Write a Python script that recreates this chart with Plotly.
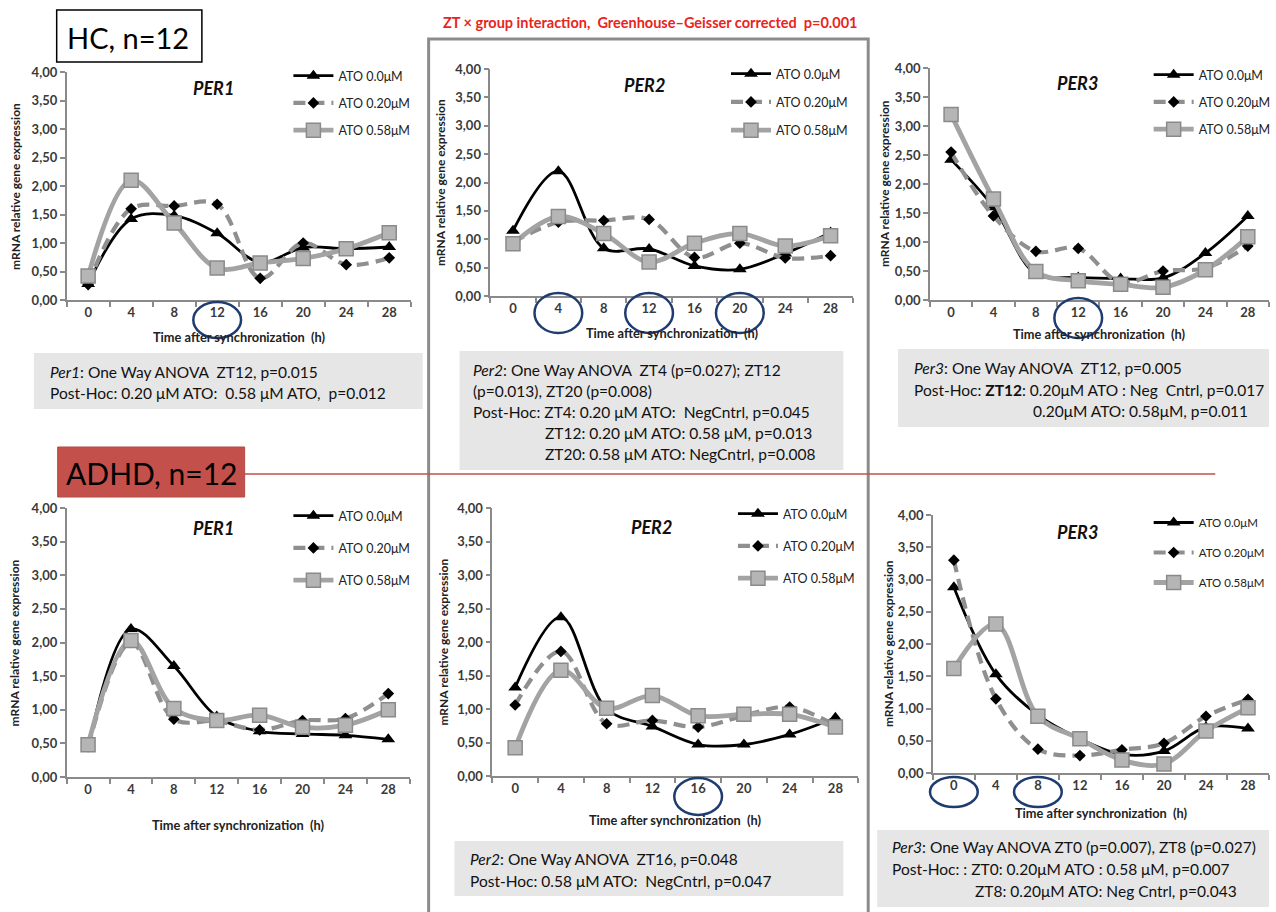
import plotly.graph_objects as go

W, H = 1276, 912
def px(x): return x / W
def py(y): return 1 - y / H

# ---------------- data ----------------
hours = [0, 4, 8, 12, 16, 20, 24, 28]
hour_labels = ["0", "4", "8", "12", "16", "20", "24", "28"]
series_names = ["ATO 0.0μM", "ATO 0.20μM", "ATO 0.58μM"]

hc_per1_ato000 = [0.28, 1.42, 1.48, 1.17, 0.66, 0.92, 0.90, 0.93]
hc_per1_ato020 = [0.27, 1.60, 1.65, 1.68, 0.38, 1.00, 0.62, 0.74]
hc_per1_ato058 = [0.42, 2.10, 1.35, 0.56, 0.65, 0.73, 0.90, 1.18]

hc_per2_ato000 = [1.15, 2.20, 0.84, 0.83, 0.53, 0.47, 0.75, 1.12]
hc_per2_ato020 = [0.95, 1.30, 1.33, 1.35, 0.68, 0.93, 0.67, 0.71]
hc_per2_ato058 = [0.92, 1.40, 1.10, 0.60, 0.93, 1.10, 0.88, 1.06]

hc_per3_ato000 = [2.42, 1.60, 0.45, 0.39, 0.37, 0.38, 0.81, 1.45]
hc_per3_ato020 = [2.55, 1.45, 0.84, 0.89, 0.30, 0.50, 0.55, 0.93]
hc_per3_ato058 = [3.20, 1.74, 0.49, 0.33, 0.27, 0.22, 0.52, 1.09]

adhd_per1_ato000 = [0.43, 2.20, 1.65, 0.90, 0.68, 0.64, 0.62, 0.56]
adhd_per1_ato020 = [0.45, 2.00, 0.86, 0.83, 0.70, 0.84, 0.87, 1.24]
adhd_per1_ato058 = [0.48, 2.03, 1.02, 0.84, 0.92, 0.74, 0.77, 1.00]

adhd_per2_ato000 = [1.32, 2.37, 1.00, 0.74, 0.47, 0.47, 0.62, 0.87]
adhd_per2_ato020 = [1.06, 1.86, 0.78, 0.83, 0.73, 0.90, 1.03, 0.75]
adhd_per2_ato058 = [0.42, 1.58, 1.01, 1.20, 0.90, 0.92, 0.92, 0.73]

adhd_per3_ato000 = [2.88, 1.53, 0.90, 0.53, 0.29, 0.34, 0.71, 0.69]
adhd_per3_ato020 = [3.30, 1.15, 0.37, 0.27, 0.36, 0.46, 0.88, 1.14]
adhd_per3_ato058 = [1.62, 2.31, 0.88, 0.53, 0.20, 0.14, 0.65, 1.01]

panel_titles = ["PER1", "PER2", "PER3", "PER1", "PER2", "PER3"]
panel_series = [
    [hc_per1_ato000, hc_per1_ato020, hc_per1_ato058],
    [hc_per2_ato000, hc_per2_ato020, hc_per2_ato058],
    [hc_per3_ato000, hc_per3_ato020, hc_per3_ato058],
    [adhd_per1_ato000, adhd_per1_ato020, adhd_per1_ato058],
    [adhd_per2_ato000, adhd_per2_ato020, adhd_per2_ato058],
    [adhd_per3_ato000, adhd_per3_ato020, adhd_per3_ato058],
]
highlighted_hours = [[12], [4, 12, 20], [12], [], [16], [0, 8]]

# ---------------- layout config (pixels) ----------------
FONT = "Lato"
X_RANGE = [-2, 30]
panel_box = [
    (67, 413, 72, 300),
    (493, 858, 69, 296),
    (935, 1276, 68, 300),
    (67, 412, 508, 777),
    (495, 863, 508, 776),
    (938, 1276, 515, 773),
]
title_pos = [(215, 88), (648, 85), (1083, 83), (215, 528), (655, 527), (1083, 532)]
ytitle_x = [15, 443, 890, 15, 445, 893]
xtitle_y = [337, 333, 334, 825, 820, 813]
legend_pos = [(340, 75, 27), (780, 73, 28), (1205, 74, 27),
              (340, 515, 32), (787, 513, 32), (1205, 522, 30)]
ellipse_y = [(302, 338), (293, 333), (298, 338), None, (778, 815), (777, 807)]

line_styles = [
    dict(color="#000000", width=2.8),
    dict(color="#8f8f8f", width=4.2, dash="12px,7px"),
    dict(color="#a3a3a3", width=4.8),
]
marker_styles = [
    dict(symbol="triangle-up", size=12, color="#000000"),
    dict(symbol="diamond", size=9, color="#000000"),
    dict(symbol="square", size=14, color="#b5b5b5", line=dict(color="#8a8a8a", width=1.5)),
]

fig = go.Figure()
layout = dict(
    width=W, height=H, margin=dict(l=0, r=0, t=0, b=0),
    paper_bgcolor="white", plot_bgcolor="white",
    separators=", ", showlegend=True,
    font=dict(family=FONT, color="#333333"),
)
annotations = []
shapes = []

def ann(x, y, text, size, color, xanchor="center", **kw):
    d = dict(x=px(x), y=py(y), xref="paper", yref="paper", text=text, showarrow=False,
             xanchor=xanchor, yanchor="middle", font=dict(family=FONT, size=size, color=color))
    d.update(kw)
    annotations.append(d)

for i in range(6):
    n = "" if i == 0 else str(i + 1)
    xa, ya = "x" + n, "y" + n
    lg = "legend" + n
    l, r, t, b = panel_box[i]
    for s in range(3):
        fig.add_trace(go.Scatter(
            x=hours, y=panel_series[i][s], name=series_names[s],
            mode="lines+markers", line=dict(shape="spline", smoothing=1.0, **line_styles[s]),
            marker=marker_styles[s], xaxis=xa, yaxis=ya, legend=lg,
            legendgroup=f"g{i}{s}", cliponaxis=False,
        ))
    layout["xaxis" + n] = dict(
        domain=[px(l), px(r)], anchor=ya, range=X_RANGE,
        tickvals=hours, ticktext=hour_labels, ticks="",
        tickfont=dict(family=FONT, size=13, color="#3a3a3a", weight="bold"),
        showline=True, linecolor="#8a8a8a", linewidth=1.5,
        showgrid=False, zeroline=False, fixedrange=True,
        minor=dict(tickvals=[-2, 2, 6, 10, 14, 18, 22, 26, 30], ticks="outside",
                   ticklen=5, tickcolor="#8a8a8a", tickwidth=1.5, showgrid=False),
        automargin=False,
    )
    layout["yaxis" + n] = dict(
        domain=[py(b), py(t)], anchor=xa, range=[0, 4],
        tickvals=[0, 0.5, 1, 1.5, 2, 2.5, 3, 3.5, 4], tickformat=".2f",
        ticks="outside", ticklen=5, tickcolor="#8a8a8a", tickwidth=1.5,
        tickfont=dict(family=FONT, size=13, color="#3a3a3a", weight="bold"),
        showline=True, linecolor="#8a8a8a", linewidth=1.5,
        showgrid=False, zeroline=False, fixedrange=True, automargin=False,
    )
    lx, ly, gap = legend_pos[i]
    layout[lg] = dict(
        x=px(lx - 50), y=py(ly - 14), xanchor="left", yanchor="top",
        bgcolor="rgba(0,0,0,0)", borderwidth=0, tracegroupgap=gap - 19, itemwidth=40,
        font=dict(family=FONT, size=12.5 if i != 5 else 11.5, color="#222222"),
        itemclick=False, itemdoubleclick=False,
    )
    tx, ty = title_pos[i]
    ann(tx, ty, f"<b><i>{panel_titles[i]}</i></b>", 18, "#111111")
    ann(ytitle_x[i], (t + b) / 2, "<b>mRNA relative gene expression</b>", 12, "#222222", textangle=-90)
    ann((l + r) / 2, xtitle_y[i], "<b>Time after synchronization  (h)</b>", 12.8, "#222222")
    if ellipse_y[i]:
        k = (r - l) / (X_RANGE[1] - X_RANGE[0])
        for h in highlighted_hours[i]:
            cx = l + (h - X_RANGE[0]) * k
            shapes.append(dict(type="circle", xref="paper", yref="paper",
                               x0=px(cx - 24), x1=px(cx + 24),
                               y0=py(ellipse_y[i][1]), y1=py(ellipse_y[i][0]),
                               line=dict(color="#1f3c70", width=2.5)))

# big grey frame around PER2 column
shapes.append(dict(type="rect", xref="paper", yref="paper", x0=px(431), x1=px(873),
                   y0=py(920), y1=py(39), line=dict(color="#8c8c8c", width=3), layer="below"))
# red separator line
shapes.append(dict(type="line", xref="paper", yref="paper", x0=px(246), x1=px(1222),
                   y0=py(474), y1=py(474), line=dict(color="#c0504d", width=1.5)))
# HC box
shapes.append(dict(type="rect", xref="paper", yref="paper", x0=px(57), x1=px(203),
                   y0=py(62), y1=py(10), line=dict(color="#000000", width=1.5), fillcolor="white"))
ann(129, 37, "HC, n=12", 29, "#000000")
# ADHD box
shapes.append(dict(type="rect", xref="paper", yref="paper", x0=px(58), x1=px(246),
                   y0=py(497), y1=py(447), line=dict(color="#b24a46", width=1), fillcolor="#c4504c"))
ann(152, 473, "ADHD, n=12", 30, "#000000")
# red statistic title
ann(654, 22, "<b>ZT × group interaction,  Greenhouse–Geisser corrected  p=0.001</b>", 14.5, "#e8241c")

# statistics text boxes
text_boxes = [
    ((34, 425, 353, 409), [
        (48, 372, "<i>Per1</i>: One Way ANOVA  ZT12, p=0.015"),
        (48, 393, "Post-Hoc: 0.20 μM ATO:  0.58 μM ATO,  p=0.012")]),
    ((462, 848, 351, 470), [
        (474, 370, "<i>Per2</i>: One Way ANOVA  ZT4 (p=0.027); ZT12"),
        (474, 391, "(p=0.013), ZT20 (p=0.008)"),
        (474, 412, "Post-Hoc: ZT4: 0.20 μM ATO:  NegCntrl, p=0.045"),
        (546, 433, "ZT12: 0.20 μM ATO: 0.58 μM, p=0.013"),
        (546, 454, "ZT20: 0.58 μM ATO: NegCntrl, p=0.008")]),
    ((903, 1276, 349, 427), [
        (917, 368, "<i>Per3</i>: One Way ANOVA  ZT12, p=0.005"),
        (917, 390, "Post-Hoc: <b>ZT12</b>: 0.20μM ATO : Neg  Cntrl, p=0.017"),
        (1037, 411, "0.20μM ATO: 0.58μM, p=0.011")]),
    ((457, 848, 841, 896), [
        (471, 859, "<i>Per2</i>: One Way ANOVA  ZT16, p=0.048"),
        (471, 881, "Post-Hoc: 0.58 μM ATO:  NegCntrl, p=0.047")]),
    ((882, 1276, 830, 907), [
        (895, 847, "<i>Per3</i>: One Way ANOVA ZT0 (p=0.007), ZT8 (p=0.027)"),
        (895, 869, "Post-Hoc: : ZT0: 0.20μM ATO : 0.58 μM, p=0.007"),
        (978, 891, "ZT8: 0.20μM ATO: Neg Cntrl, p=0.043")]),
]
for (x0, x1, y0, y1), lines in text_boxes:
    shapes.append(dict(type="rect", xref="paper", yref="paper", x0=px(x0), x1=px(x1),
                       y0=py(y1), y1=py(y0), line=dict(width=0), fillcolor="#e6e6e6", layer="below"))
    for (tx, ty, txt) in lines:
        ann(tx, ty, txt, 15.5, "#111111", xanchor="left")

layout["annotations"] = annotations
layout["shapes"] = shapes
fig.update_layout(**layout)

post = (
    "document.documentElement.style.margin='0';"
    "document.documentElement.style.overflow='hidden';"
    "document.body.style.margin='0';"
    "document.body.style.overflow='hidden';"
    "document.querySelectorAll('.plotly-graph-div').forEach(function(d){"
    "d.style.position='fixed';d.style.left='0px';d.style.top='0px';d.style.overflow='hidden';});"
)
fig.write_html("out.html", config={"displayModeBar": False}, post_script=post)
